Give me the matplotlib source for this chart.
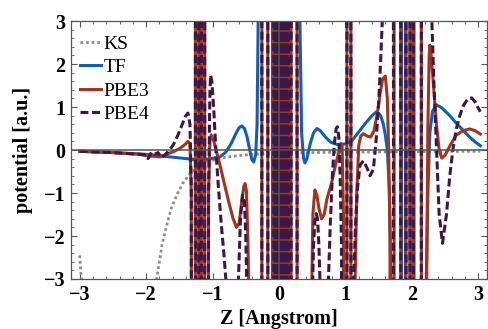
import numpy as np
import matplotlib.pyplot as plt

plt.rcParams['font.family'] = ['Liberation Serif', 'DejaVu Serif']

BIG = 30.0  # value far outside the plot range, used where a curve blows up

# ---- KS (inverted Kohn-Sham potential)
ks_x = [-3.0, -2.97, -2.9, -1.9, -1.84, -1.76, -1.69, -1.62, -1.53, -1.45, -1.34,
        -1.2, -1.05, -0.85, -0.6, -0.4, 0.0, 1.0, 2.0, 3.03]
ks_y = [-2.45, -3.1, -BIG, -BIG, -3.0, -2.2, -1.75, -1.35, -1.02, -0.78, -0.55,
        -0.38, -0.26, -0.18, -0.13, -0.1, -0.07, -0.05, -0.04, -0.03]

# ---- TF
tf_x1 = [-3.0, -2.5, -2.0, -1.64, -1.4, -1.22, -1.05, -0.89, -0.8, -0.72, -0.65, -0.6,
         -0.56, -0.52, -0.48, -0.44, -0.41, -0.38, -0.35, -0.33, -0.31, -0.30]
tf_y1 = [-0.03, -0.06, -0.1, -0.16, -0.2, -0.23, -0.21, -0.16, -0.05, 0.15, 0.38, 0.52,
         0.56, 0.5, 0.3, 0.0, -0.22, -0.28, -0.1, 0.6, 3.5, BIG]
tf_spk1 = [-0.10, 0.14]
tf_x2 = [0.30, 0.31, 0.34, 0.37, 0.39, 0.42, 0.47, 0.52, 0.57, 0.62, 0.7, 0.78, 0.87,
         1.0, 1.1, 1.2, 1.3, 1.4, 1.47, 1.53, 1.57, 1.6, 1.63, 1.66, 1.69, 1.70]
tf_y2 = [BIG, 3.5, 0.4, -0.2, -0.3, -0.2, 0.15, 0.4, 0.5, 0.45, 0.3, 0.18, 0.13,
         0.14, 0.22, 0.42, 0.62, 0.8, 0.89, 0.8, 0.6, 0.35, 0.0, -0.9, -3.5, -BIG]
tf_spk2 = [1.84, 1.90, 1.97, 2.03]
tf_x3 = [2.19, 2.21, 2.24, 2.27, 2.31, 2.37, 2.45, 2.57, 2.67, 2.77, 2.87, 2.95, 3.03]
tf_y3 = [-BIG, -3.5, -1.0, 0.4, 0.9, 1.05, 0.98, 0.8, 0.62, 0.46, 0.3, 0.19, 0.1]

# ---- PBE3
p3_x1 = [-3.0, -2.5, -2.1, -1.95, -1.85, -1.79, -1.7, -1.59, -1.5, -1.42, -1.37,
         -1.34, -1.32, -1.30]
p3_y1 = [-0.03, -0.06, -0.1, -0.14, -0.15, -0.16, -0.1, -0.04, 0.03, 0.12, 0.2,
         0.15, -1.0, -BIG]
p3_x2 = [-1.08, -1.06, -1.04, -1.02, -0.98, -0.93, -0.88, -0.82, -0.75, -0.69, -0.64,
         -0.6, -0.56, -0.53, -0.51, -0.49, -0.47, -0.45, -0.44]
p3_y2 = [-BIG, -1.0, 0.2, 0.35, 0.2, -0.1, -0.4, -0.8, -1.25, -1.6, -1.8,
         -1.7, -1.2, -0.85, -0.78, -0.95, -2.0, -3.5, -BIG]
p3_x3 = [0.47, 0.49, 0.51, 0.54, 0.57, 0.6, 0.64, 0.68, 0.72, 0.79, 0.85, 0.9, 0.93,
         0.95, 0.97, 0.98]
p3_y3 = [-BIG, -3.5, -1.5, -0.93, -1.05, -1.35, -1.6, -1.5, -1.15, -0.77, -0.35, -0.05,
         0.15, 0.1, -1.5, -BIG]
p3_x4 = [1.12, 1.14, 1.17, 1.2, 1.23, 1.27, 1.32, 1.38, 1.43, 1.48, 1.52, 1.56, 1.6,
         1.63, 1.65, 1.67, 1.69]
p3_y4 = [-BIG, -3.5, -1.0, 0.1, 0.32, 0.38, 0.33, 0.3, 0.45, 0.85, 1.3, 1.65, 1.72,
         1.2, 0.0, -2.0, -BIG]
p3_x5 = [2.20, 2.22, 2.24, 2.26, 2.27, 2.29, 2.32, 2.37, 2.41, 2.45, 2.5, 2.58, 2.67,
         2.77, 2.87, 2.95, 3.03]
p3_y5 = [-BIG, -3.5, 0.5, 2.2, 2.44, 2.2, 1.59, 0.58, 0.0, -0.19, -0.12, 0.12, 0.35,
         0.45, 0.49, 0.45, 0.37]

# ---- PBE4
p4_x1 = [-3.0, -2.5, -2.1, -2.0, -1.97, -1.92, -1.87, -1.82, -1.77, -1.72, -1.66,
         -1.59, -1.52, -1.46, -1.41, -1.37, -1.34, -1.32, -1.31]
p4_y1 = [-0.03, -0.06, -0.1, -0.12, -0.2, -0.05, -0.1, -0.06, -0.18, -0.12, -0.02,
         0.12, 0.35, 0.58, 0.78, 0.86, 0.6, -0.8, -BIG]
p4_x2 = [-1.08, -1.06, -1.04, -1.03, -1.01, -0.98, -0.95, -0.91, -0.87, -0.83, -0.79,
         -0.78, -0.63, -0.61, -0.58, -0.55, -0.52, -0.5, -0.48, -0.47]
p4_y2 = [-BIG, -1.0, 1.3, 1.74, 1.6, 0.9, 0.0, -0.9, -1.7, -2.4, -3.2,
         -BIG, -BIG, -3.0, -1.6, -1.05, -1.2, -2.0, -3.5, -BIG]
p4_x3 = [0.48, 0.5, 0.52, 0.54, 0.56, 0.58, 0.6, 0.62, 0.64, 0.72, 0.74, 0.77, 0.8,
         0.83, 0.86, 0.88, 0.9, 0.92, 0.94, 0.96]
p4_y3 = [-BIG, -3.5, -2.2, -1.65, -1.48, -1.6, -2.2, -3.2, -BIG, -BIG, -3.2, -1.8, -0.7,
         0.1, 0.5, 0.54, 0.3, -0.6, -2.2, -BIG]
p4_x4 = [1.10, 1.12, 1.15, 1.18, 1.22, 1.27, 1.32, 1.37, 1.42, 1.46, 1.5, 1.53, 1.56,
         1.58]
p4_y4 = [-BIG, -3.2, -1.8, -0.9, -0.35, -0.25, -0.4, -0.6, -0.45, 0.2, 1.1, 2.1, 3.2,
         BIG]
p4_x5 = [2.27, 2.30, 2.33, 2.37, 2.41, 2.46, 2.52, 2.57, 2.62, 2.67, 2.72, 2.78, 2.85,
         2.9, 2.95, 3.0, 3.03]
p4_y5 = [BIG, 3.0, 1.6, 0.04, -1.5, -2.17, -1.5, -0.6, 0.04, 0.5, 0.8, 1.05, 1.2,
         1.21, 1.12, 0.97, 0.89]

# positions where PBE3/PBE4 sweep through the whole range
spk_left = [-1.26, -1.21, -1.17, -1.12]
spk_mid = [-0.26, -0.17, -0.08, -0.06, -0.04, -0.02, 0.0, 0.02, 0.04, 0.06, 0.08, 0.10,
           0.12, 0.14, 0.18, 0.27]
spk_one = [1.02, 1.08]
spk_right = [1.73, 1.83, 1.91, 1.97, 2.02, 2.14]
spk_right4 = [1.72, 1.83, 1.91, 1.97, 2.02, 2.14]


def sweep(xs, first):
    px, py = [], []
    s = first
    for x in xs:
        px += [x, x + 0.004]
        py += [s * BIG, -s * BIG]
        s = -s
    return px, py


def join(*parts):
    X, Y = [], []
    for x, y in parts:
        X += list(x)
        Y += list(y)
    return np.array(X), np.array(Y)


tf = join((tf_x1, tf_y1), sweep(tf_spk1, 1), (tf_x2, tf_y2), sweep(tf_spk2, -1),
          (tf_x3, tf_y3))
pbe3 = join((p3_x1, p3_y1), sweep(spk_left, -1), (p3_x2, p3_y2), sweep(spk_mid, -1),
            (p3_x3, p3_y3), sweep(spk_one, -1), (p3_x4, p3_y4), sweep(spk_right, -1),
            (p3_x5, p3_y5))
pbe4 = join((p4_x1, p4_y1), sweep(spk_left, -1), (p4_x2, p4_y2), sweep(spk_mid, -1),
            (p4_x3, p4_y3), sweep(spk_one, -1), (p4_x4, p4_y4), sweep(spk_right4, 1),
            (p4_x5, p4_y5))

c_ks = '#8e8e8e'
c_tf = '#0f60b2'
c_p3 = '#a3351c'
c_p4 = '#3b1848'

fig = plt.figure(figsize=(4.89, 3.29), dpi=100)
ax = fig.add_axes([71 / 489, 50 / 329, 416 / 489, 258 / 329])

ax.plot(ks_x, ks_y, color=c_ks, lw=2.0, ls=(0, (1, 1)), label='KS')
ax.plot(tf[0], tf[1], color=c_tf, lw=2.2, label='TF')
ax.plot(pbe3[0], pbe3[1], color=c_p3, lw=2.2, label='PBE3')
ax.plot(pbe4[0], pbe4[1], color=c_p4, lw=2.2, dashes=(2.6, 1.2), label='PBE4')

ax.axhline(0, color='#555555', lw=1.1, zorder=5)
ax.axvline(0, color='#555555', lw=1.1, zorder=5)

ax.set_xlim(-3.13, 3.13)
ax.set_ylim(-3, 3)
ax.set_xticks([-3, -2, -1, 0, 1, 2, 3])
ax.set_yticks([-3, -2, -1, 0, 1, 2, 3])
ax.set_xticks(np.arange(-3, 3.01, 0.2), minor=True)
ax.set_yticks(np.arange(-3, 3.01, 0.2), minor=True)
ax.set_xticklabels(['\u22123', '\u22122', '\u22121', '0', '1', '2', '3'])
ax.set_yticklabels(['\u22123', '\u22122', '\u22121', '0', '1', '2', '3'])
ax.tick_params(which='both', direction='in', top=True, right=True, color='#555555')
ax.tick_params(which='major', length=4.5, width=0.8, labelsize=14.5, pad=4)
ax.tick_params(which='minor', length=2.5, width=0.6)
for lab in ax.get_xticklabels() + ax.get_yticklabels():
    lab.set_fontweight('bold')
for s in ax.spines.values():
    s.set_color('#555555')
    s.set_linewidth(0.9)

ax.set_xlabel('Z [Angstrom]', fontsize=14.5, fontweight='bold', labelpad=3)
ax.set_ylabel('potential [a.u.]', fontsize=14.5, fontweight='bold', labelpad=8)

ax.legend(loc='upper left', bbox_to_anchor=(0.022, 0.945), frameon=False, fontsize=14,
          handlelength=1.05, handletextpad=0.15, labelspacing=0.3, borderpad=0,
          borderaxespad=0)

fig.savefig('out.png', dpi=100)
